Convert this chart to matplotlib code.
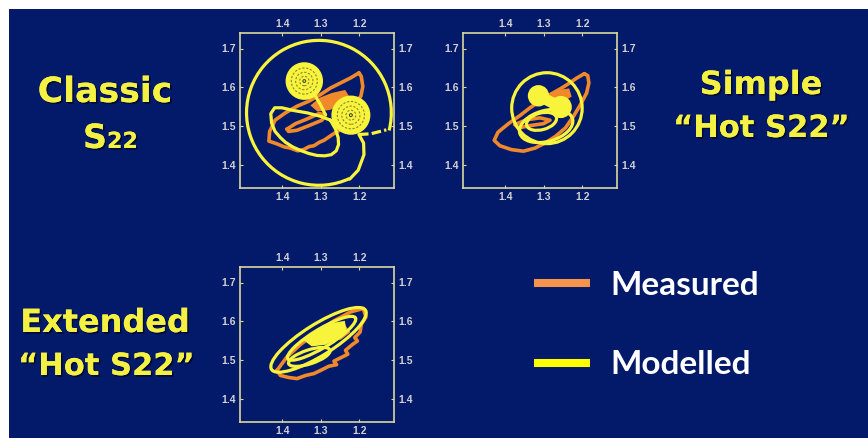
import matplotlib.pyplot as plt
import matplotlib.patheffects as pe
from matplotlib.lines import Line2D
from matplotlib.patches import Arc, Circle, Ellipse, Polygon, Rectangle

BG = '#03196a'
FRAME = '#d9d99a'
TICK_TXT = '#d2d2d2'
ORANGE = '#f0892a'
YELLOW = '#f8f43c'
TITLE_YELLOW = '#f4f142'

X_TICKS = [1.4, 1.3, 1.2]
Y_TICKS = [1.4, 1.5, 1.6, 1.7]
X_LIM = (1.51, 1.11)
Y_LIM = (1.34, 1.74)

# ---- Classic S22 ----
CLASSIC_MEAS_OUTER = [(1.201, 1.637), (1.223, 1.624), (1.249, 1.611), (1.275, 1.598),
                      (1.301, 1.581), (1.331, 1.564), (1.362, 1.551), (1.392, 1.534),
                      (1.419, 1.515), (1.433, 1.486), (1.435, 1.461), (1.414, 1.454),
                      (1.395, 1.446), (1.379, 1.443), (1.360, 1.436), (1.345, 1.439),
                      (1.330, 1.447), (1.318, 1.449), (1.304, 1.458), (1.292, 1.463),
                      (1.270, 1.478), (1.249, 1.491), (1.223, 1.521), (1.210, 1.559),
                      (1.196, 1.577), (1.191, 1.602), (1.195, 1.628)]
CLASSIC_MEAS_INNER = [(1.388, 1.492), (1.366, 1.506), (1.336, 1.518), (1.305, 1.532),
                      (1.288, 1.529), (1.297, 1.515), (1.331, 1.501), (1.362, 1.489),
                      (1.384, 1.486)]
CLASSIC_MEAS_CORE = [(1.323, 1.553), (1.301, 1.571), (1.270, 1.583), (1.238, 1.590),
                     (1.230, 1.577), (1.249, 1.558), (1.277, 1.544), (1.308, 1.540)]
# big outer contour: centre x, centre y, width, height, start/end angle (deg)
CLASSIC_ARC = (1.305, 1.534, 0.376, 0.374, -115, 194)
CLASSIC_MODEL_HOOK = [(1.225, 1.363), (1.203, 1.386), (1.188, 1.426), (1.189, 1.456),
                      (1.201, 1.478)]
CLASSIC_MODEL_TAIL = [(1.201, 1.478), (1.170, 1.480), (1.130, 1.490)]
CLASSIC_MODEL_INNER = [(1.275, 1.515), (1.301, 1.525), (1.336, 1.534), (1.371, 1.540),
                       (1.401, 1.547), (1.420, 1.547), (1.430, 1.532), (1.428, 1.508),
                       (1.419, 1.486), (1.405, 1.470), (1.392, 1.458), (1.373, 1.446),
                       (1.353, 1.437), (1.331, 1.429), (1.310, 1.424), (1.290, 1.423),
                       (1.273, 1.426), (1.260, 1.436), (1.254, 1.452), (1.255, 1.470),
                       (1.262, 1.492)]
CLASSIC_MODEL_LINK = [(1.314, 1.577), (1.301, 1.555), (1.288, 1.529)]
CLASSIC_SPOT_X = [1.343, 1.222]
CLASSIC_SPOT_Y = [1.616, 1.528]
CLASSIC_SPOT_R = [0.045, 0.047]

# ---- Simple "Hot S22" ----
SIMPLE_MEAS_OUTER = [(1.195, 1.635), (1.214, 1.624), (1.236, 1.609), (1.257, 1.596),
                     (1.284, 1.581), (1.310, 1.564), (1.336, 1.547), (1.362, 1.527),
                     (1.392, 1.506), (1.419, 1.484), (1.429, 1.463), (1.414, 1.449),
                     (1.384, 1.439), (1.353, 1.435), (1.323, 1.443), (1.297, 1.456),
                     (1.270, 1.473), (1.244, 1.495), (1.223, 1.525), (1.205, 1.555),
                     (1.189, 1.585), (1.183, 1.611), (1.186, 1.630)]
SIMPLE_MEAS_INNER = [(1.375, 1.504), (1.345, 1.516), (1.310, 1.521), (1.284, 1.515),
                     (1.301, 1.506), (1.336, 1.501), (1.366, 1.495)]
SIMPLE_MEAS_CORE = [(1.288, 1.577), (1.266, 1.590), (1.236, 1.594), (1.231, 1.577),
                    (1.253, 1.564), (1.282, 1.559)]
# modelled contours: centre x, centre y, width, height, angle (deg)
SIMPLE_MODEL_ELLIPSES = [(1.292, 1.546, 0.183, 0.183, 0),
                         (1.294, 1.500, 0.142, 0.080, -15),
                         (1.306, 1.512, 0.080, 0.043, -15)]
SIMPLE_SPOT_X = [1.314, 1.256]
SIMPLE_SPOT_Y = [1.578, 1.549]
SIMPLE_SPOT_R = [0.024, 0.025]

# ---- Extended "Hot S22" ----
EXT_MEAS_OUTER = [(1.414, 1.473), (1.388, 1.508), (1.353, 1.540), (1.310, 1.572),
                  (1.266, 1.601), (1.223, 1.624), (1.190, 1.633), (1.183, 1.611),
                  (1.195, 1.592), (1.198, 1.572), (1.212, 1.558), (1.205, 1.549),
                  (1.218, 1.540), (1.236, 1.525), (1.230, 1.515), (1.244, 1.508),
                  (1.266, 1.497), (1.259, 1.488), (1.279, 1.484), (1.301, 1.473),
                  (1.318, 1.465), (1.340, 1.460), (1.362, 1.452), (1.384, 1.455),
                  (1.405, 1.460)]
EXT_MEAS_CORE = [(1.275, 1.581), (1.240, 1.590), (1.227, 1.572), (1.249, 1.555),
                 (1.275, 1.551)]
EXT_MODEL_ELLIPSES = [(1.306, 1.552, 0.288, 0.080, -32),
                      (1.298, 1.556, 0.205, 0.048, -31),
                      (1.330, 1.508, 0.113, 0.036, -18)]
EXT_MODEL_CORE = [(1.340, 1.551), (1.310, 1.577), (1.275, 1.592), (1.240, 1.598),
                  (1.236, 1.577), (1.257, 1.558), (1.288, 1.542), (1.323, 1.538)]

LEGEND_LABELS = ['Measured', 'Modelled']
LEGEND_COLORS = ['#f5944a', '#ffff00']

W, H = 868, 438


def px_box(left, top, width, height):
    return [left / W, 1 - (top + height) / H, width / W, height / H]


def setup(ax):
    ax.set_facecolor(BG)
    ax.set_xlim(*X_LIM)
    ax.set_ylim(*Y_LIM)
    ax.set_xticks(X_TICKS)
    ax.set_yticks(Y_TICKS)
    ax.set_xticklabels([f'{v:.1f}' for v in X_TICKS])
    ax.set_yticklabels([f'{v:.1f}' for v in Y_TICKS])
    ax.tick_params(which='both', direction='in', length=2, width=0.8, color=FRAME,
                   top=True, right=True, labeltop=True, labelright=True,
                   labelsize=7.5, labelcolor=TICK_TXT, pad=3)
    for lab in ax.get_xticklabels() + ax.get_yticklabels():
        lab.set_fontweight('bold')
        lab.set_family(['Liberation Sans Narrow', 'Liberation Sans'])
    for s in ax.spines.values():
        s.set_color(FRAME)
        s.set_linewidth(1.2)


def trace(ax, pts, color, lw=2.3, closed=True, z=2, ls='-'):
    xs = [p[0] for p in pts]
    ys = [p[1] for p in pts]
    if closed:
        xs.append(xs[0])
        ys.append(ys[0])
    ax.plot(xs, ys, color=color, lw=lw, ls=ls, solid_joinstyle='round',
            solid_capstyle='round', zorder=z)


def fill(ax, pts, color, z=2):
    ax.add_patch(Polygon(pts, closed=True, fc=color, ec=color, lw=1.5, zorder=z))


def ellipses(ax, specs, color, lw=2.3, z=3):
    for cx, cy, w, h, a in specs:
        ax.add_patch(Ellipse((cx, cy), w, h, angle=a, fill=False, ec=color,
                             lw=lw, zorder=z))


def spot(ax, x, y, r, rings=True):
    ax.add_patch(Circle((x, y), r, fc=YELLOW, ec=YELLOW, lw=2, zorder=4))
    if rings:
        for f in (0.75, 0.5, 0.27):
            ax.add_patch(Circle((x, y), r * f, fill=False, ec='#8c8432', lw=0.8,
                                ls=(0, (2, 1.5)), zorder=5))
        ax.add_patch(Circle((x, y), r * 0.08, fill=False, ec='#4a4a30', lw=0.8, zorder=5))


fig = plt.figure(figsize=(8.68, 4.38), dpi=100, facecolor='white')
fig.add_artist(Rectangle((9 / W, 0), 1, 1 - 9 / H, transform=fig.transFigure,
                         fc=BG, ec='none', zorder=-5))

ax1 = fig.add_axes(px_box(240, 33, 154, 155))
ax2 = fig.add_axes(px_box(463, 33, 154, 155))
ax3 = fig.add_axes(px_box(240, 267, 154, 155))
for ax in (ax1, ax2, ax3):
    setup(ax)

# Classic S22
trace(ax1, CLASSIC_MEAS_OUTER, ORANGE, lw=2.6)
trace(ax1, CLASSIC_MEAS_INNER, ORANGE, lw=2.6)
fill(ax1, CLASSIC_MEAS_CORE, ORANGE)
cx, cy, aw, ah, t1, t2 = CLASSIC_ARC
ax1.add_patch(Arc((cx, cy), aw, ah, theta1=t1, theta2=t2, ec=YELLOW, lw=2.3, zorder=3))
trace(ax1, CLASSIC_MODEL_HOOK, YELLOW, closed=False, z=3)
trace(ax1, CLASSIC_MODEL_TAIL, YELLOW, closed=False, z=3, ls=(0, (3, 1)))
trace(ax1, CLASSIC_MODEL_INNER, YELLOW, z=3)
trace(ax1, CLASSIC_MODEL_LINK, YELLOW, closed=False, z=3)
for x, y, r in zip(CLASSIC_SPOT_X, CLASSIC_SPOT_Y, CLASSIC_SPOT_R):
    spot(ax1, x, y, r)

# Simple "Hot S22"
trace(ax2, SIMPLE_MEAS_OUTER, ORANGE, lw=2.6)
trace(ax2, SIMPLE_MEAS_INNER, ORANGE, lw=2.6)
fill(ax2, SIMPLE_MEAS_CORE, ORANGE)
ellipses(ax2, SIMPLE_MODEL_ELLIPSES, YELLOW)
ax2.plot(SIMPLE_SPOT_X, SIMPLE_SPOT_Y, color=YELLOW, lw=8, zorder=4,
         solid_capstyle='round')
for x, y, r in zip(SIMPLE_SPOT_X, SIMPLE_SPOT_Y, SIMPLE_SPOT_R):
    spot(ax2, x, y, r, rings=False)

# Extended "Hot S22"
trace(ax3, EXT_MEAS_OUTER, ORANGE, lw=2.6)
fill(ax3, EXT_MEAS_CORE, ORANGE)
ellipses(ax3, EXT_MODEL_ELLIPSES, YELLOW)
fill(ax3, EXT_MODEL_CORE, YELLOW, z=4)

# Titles
shadow = [pe.withSimplePatchShadow(offset=(1.2, -1.2), shadow_rgbFace='#000a30', alpha=0.9),
          pe.Normal()]
tkw = dict(color=TITLE_YELLOW, fontweight='bold', family='DejaVu Sans',
           path_effects=shadow, va='baseline')
fig.text(105 / W, 1 - 102 / H, 'Classic', ha='center', fontsize=25, **tkw)
fig.text(107 / W, 1 - 148 / H, 'S', ha='right', fontsize=24, **tkw)
fig.text(107 / W, 1 - 148 / H, '22', ha='left', fontsize=16, **tkw)
fig.text(761 / W, 1 - 94 / H, 'Simple', ha='center', fontsize=23, **tkw)
fig.text(761 / W, 1 - 137 / H, '\u201cHot S22\u201d', ha='center', fontsize=22, **tkw)
fig.text(105 / W, 1 - 332 / H, 'Extended', ha='center', fontsize=23, **tkw)
fig.text(106 / W, 1 - 375 / H, '\u201cHot S22\u201d', ha='center', fontsize=22, **tkw)

# Legend
for lab, col, yc, yb in zip(LEGEND_LABELS, LEGEND_COLORS, [283, 363], [295, 374]):
    fig.add_artist(Line2D([534 / W, 590 / W], [1 - yc / H, 1 - yc / H],
                          transform=fig.transFigure, color=col, lw=5.8,
                          solid_capstyle='butt'))
    fig.text(610 / W, 1 - yb / H, lab, color='white', fontsize=24, fontweight='bold',
             family='Lato', va='baseline', ha='left')

fig.savefig('out.png', dpi=100, facecolor='white')
